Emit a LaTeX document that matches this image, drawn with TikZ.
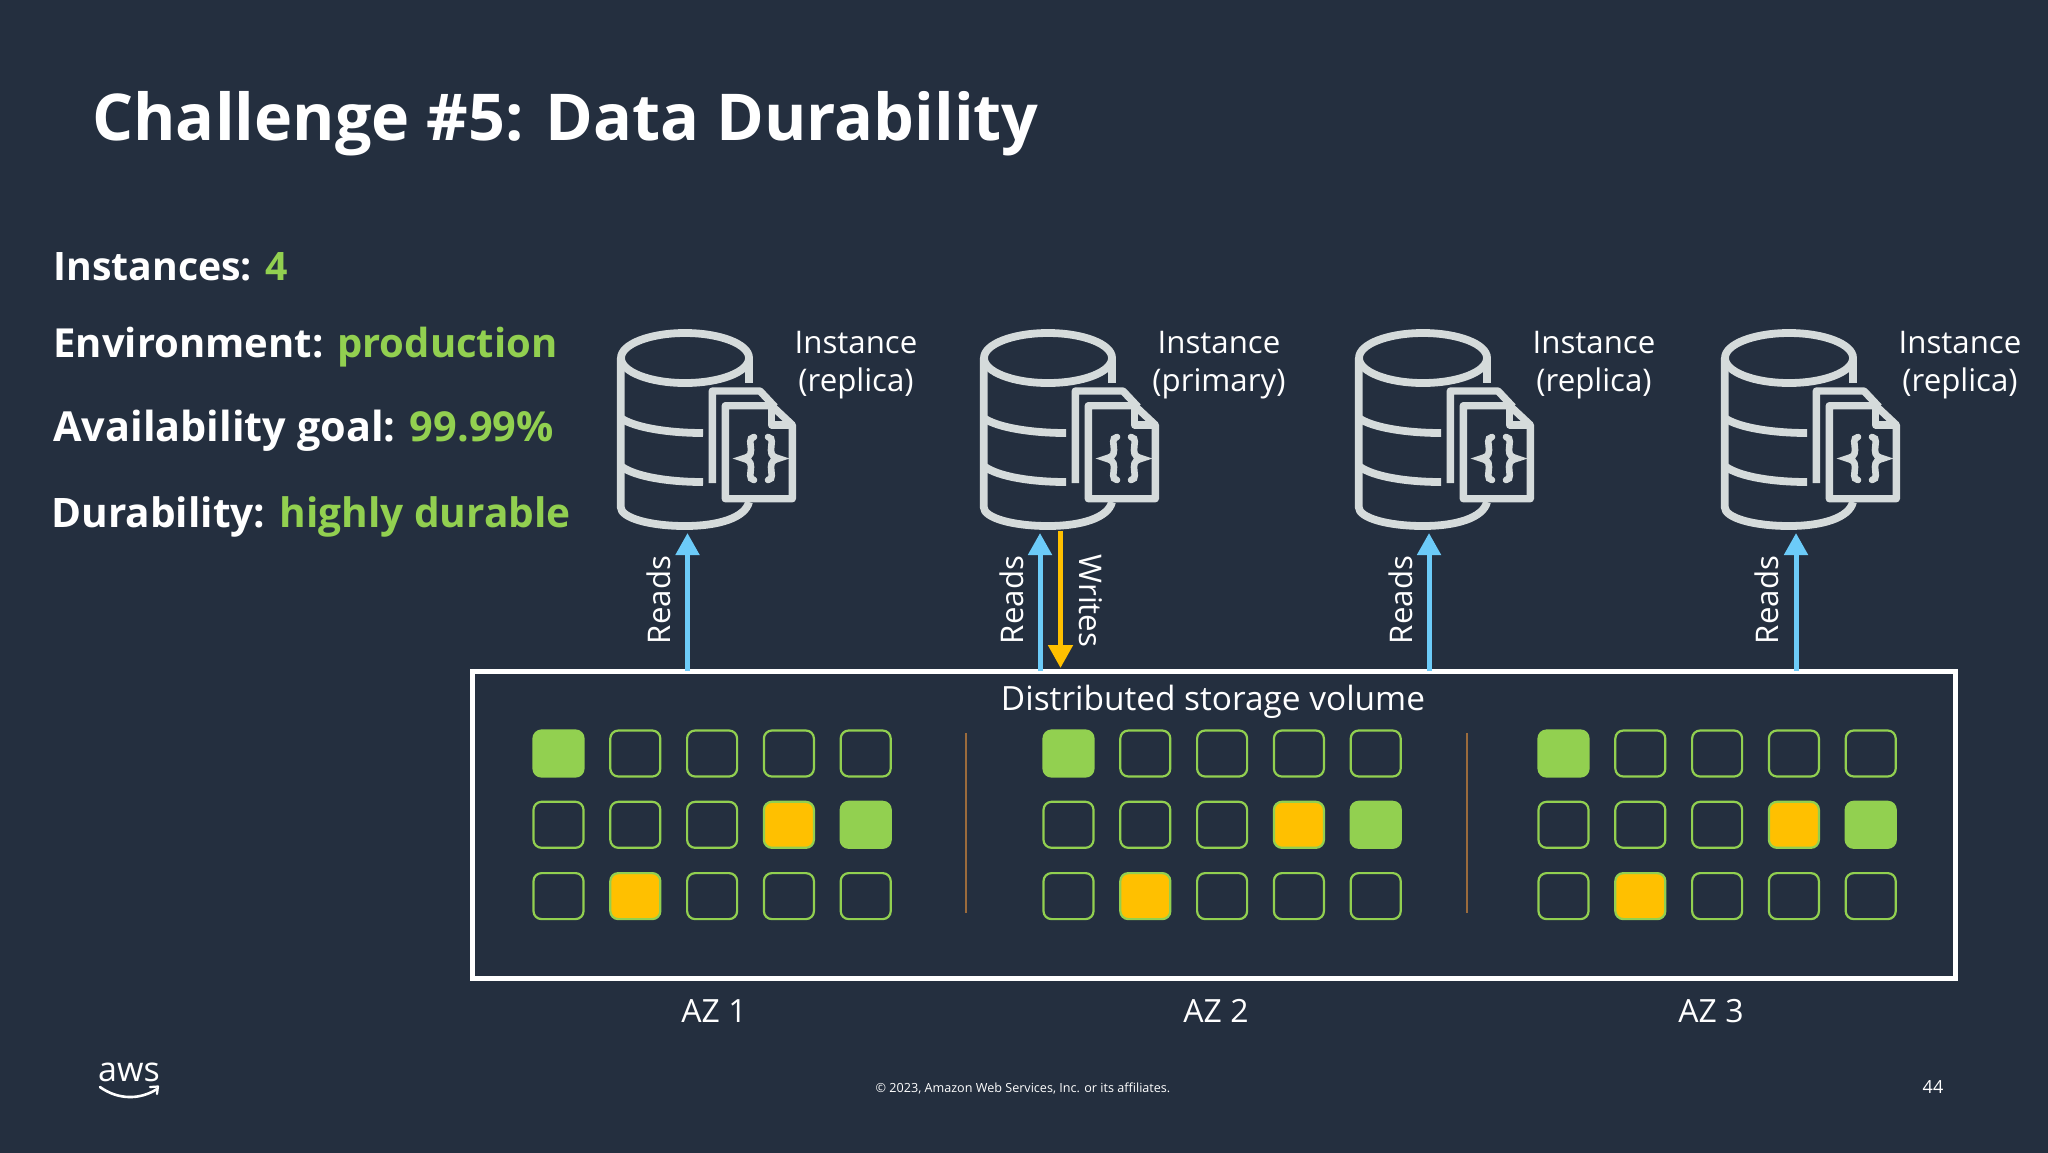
\documentclass[tikz,border=0pt]{standalone}
\usepackage{fontspec}
\setmainfont{Open Sans}
\usetikzlibrary{arrows.meta}
\definecolor{slidebg}{HTML}{242F3F}
\definecolor{goodgreen}{HTML}{92D050}
\definecolor{writeamber}{HTML}{FFC000}
\definecolor{readblue}{HTML}{6CCBF8}
\definecolor{icongray}{HTML}{D5DBDB}
\definecolor{azline}{HTML}{9B6B3C}

\begin{document}
\begin{tikzpicture}[
  x=0.5pt, y=-0.5pt,
  headline/.style={anchor=west, text=white, font=\fontsize{32.3}{38}\selectfont\bfseries},
  fact/.style={anchor=west, text=white, inner sep=0pt, font=\fontsize{#1}{24}\selectfont\bfseries},
  caption/.style={text=white, align=center, font=\fontsize{15.6}{19}\selectfont},
  cell/.style={draw=goodgreen, line width=1.1pt, rounded corners=4pt, minimum width=25pt, minimum height=23pt, inner sep=0pt},
  cellg/.style={cell, fill=goodgreen},
  celly/.style={cell, fill=writeamber},
  reads/.style={-{Triangle[length=11pt,width=11.5pt]}, draw=readblue, line width=2.5pt},
  writes/.style={-{Triangle[length=11.5pt,width=12pt]}, draw=writeamber, line width=2.5pt},
  dbicon/.pic={
    % cylinder
    \draw[icongray, line width=3.9pt] (85,48) ellipse (32pt and 12.5pt);
    \draw[icongray, line width=3.9pt] (20.7,48) -- (20.7,197) .. controls (20.7,208) and (50,216) .. (85,216) .. controls (118,216) and (145,208) .. (149,192);
    \draw[icongray, line width=3.9pt] (149,48) -- (149,73);
    \draw[icongray, line width=3.9pt] (20.7,108) .. controls (35,118) and (70,123) .. (103,123);
    \draw[icongray, line width=3.9pt] (20.7,156) .. controls (35,167) and (70,172) .. (103,172);
    % documents
    \draw[icongray, line width=3.7pt, line join=round] (112.3,173) -- (112.3,81) -- (160,81) -- (175,97);
    \draw[icongray, line width=3.7pt, fill=slidebg, line join=round] (125.3,95.7) -- (171.7,95.7) -- (192.3,115) -- (192.3,188.7) -- (125.3,188.7) -- cycle;
    \draw[icongray, line width=3.7pt, line join=round] (171.7,95.7) -- (171.7,115) -- (192.3,115);
    % braces
    \draw[icongray, line width=3.3pt, line cap=round] (154,127) .. controls (148,128) and (151,134) .. (151,140) .. controls (151,146) and (148,147) .. (143,148.5) .. controls (148,150) and (151,151) .. (151,157) .. controls (151,163) and (148,169) .. (154,170);
    \draw[icongray, line width=3.3pt, line cap=round] (168,127) .. controls (174,128) and (171,134) .. (171,140) .. controls (171,146) and (174,147) .. (179,148.5) .. controls (174,150) and (171,151) .. (171,157) .. controls (171,163) and (174,169) .. (168,170);
  }
]
  \useasboundingbox (0,0) rectangle (2048,1152);
  \fill[slidebg] (-6,-6) rectangle (2054,1158);

  \node[headline, inner sep=0pt] (title) at (92,124) {Challenge \#5: Data Durability};

  \node[fact=19.6] (instances) at (53,267) {Instances: \textcolor{goodgreen}{4}};
  \node[fact=20] (environment) at (53,347) {Environment: \textcolor{goodgreen}{production}};
  \node[fact=20.7] (goal) at (53,431) {Availability goal: \textcolor{goodgreen}{99.99\%}};
  \node[fact=20.3] (durability) at (51,517) {Durability: \textcolor{goodgreen}{highly durable}};

  % instances
  \pic at (600,310) {dbicon};
  \pic at (963,310) {dbicon};
  \pic at (1338,310) {dbicon};
  \pic at (1704,310) {dbicon};

  \node[caption] (inst1) at (856,365) {Instance\\(replica)};
  \node[caption] (inst2) at (1219,365) {Instance\\(primary)};
  \node[caption] (inst3) at (1594,365) {Instance\\(replica)};
  \node[caption] (inst4) at (1960,365) {Instance\\(replica)};

  % storage volume
  \node[draw=white, line width=2.5pt, outer sep=0pt, minimum width=741.5pt, minimum height=153.5pt] (volume) at (1213.5,824.5) {};
  \node[caption, font=\fontsize{16.7}{19}\selectfont] (voltitle) at (1213,702) {Distributed storage volume};

  \coordinate (foot1) at (687.5,533);
  \coordinate (foot2) at (1040,533);
  \coordinate (foot3) at (1429,533);
  \coordinate (foot4) at (1796,533);
  \coordinate (writetop) at (1060.5,531);
  \coordinate (writeend) at (1060.5,668);

  \draw[reads] (volume.north -| foot1) -- (foot1);
  \draw[reads] (volume.north -| foot2) -- (foot2);
  \draw[reads] (volume.north -| foot3) -- (foot3);
  \draw[reads] (volume.north -| foot4) -- (foot4);
  \draw[writes] (writetop) -- (writeend);

  \node[caption, rotate=90] (reads1) at (659,600) {Reads};
  \node[caption, rotate=90] (reads2) at (1012,600) {Reads};
  \node[caption, rotate=90] (reads3) at (1401,600) {Reads};
  \node[caption, rotate=90] (reads4) at (1767,600) {Reads};
  \node[caption, rotate=-90] (writes1) at (1091,601) {Writes};

  % cells of each zone
  \foreach \az/\startx in {1/558.5, 2/1068.5, 3/1563.5} {
    \foreach \col/\row/\kind in {0/0/cellg, 1/0/cell, 2/0/cell, 3/0/cell, 4/0/cell,
                                 0/1/cell, 1/1/cell, 2/1/cell, 3/1/celly, 4/1/cellg,
                                 0/2/cell, 1/2/celly, 2/2/cell, 3/2/cell, 4/2/cell} {
      \node[\kind] (c\az-\col-\row) at ({\startx+76.8*\col},{753.5+71.3*\row}) {};
    }
  }

  \coordinate (split1a) at (966,733);
  \coordinate (split1b) at (966,913);
  \coordinate (split2a) at (1467,733);
  \coordinate (split2b) at (1467,913);
  \draw[azline, line width=0.8pt] (split1a) -- (split1b);
  \draw[azline, line width=0.8pt] (split2a) -- (split2b);

  \node[caption, font=\fontsize{16}{19}\selectfont] (az1) at (714,1011) {AZ 1};
  \node[caption, font=\fontsize{16}{19}\selectfont] (az2) at (1216,1011) {AZ 2};
  \node[caption, font=\fontsize{16}{19}\selectfont] (az3) at (1711,1011) {AZ 3};

  % footer
  \node[text=white, inner sep=0pt, font=\fontsize{17}{20}\selectfont] (awslogo) at (129,1072) {aws};
  \coordinate (smilea) at (100,1087);
  \coordinate (smileb) at (157,1089);
  \draw[white, line width=1.3pt, line cap=round] (smilea) .. controls (118,1100) and (140,1100) .. (smileb);
  \draw[white, line width=1.1pt, line cap=round, line join=round] (150,1087) -- (158,1086.5) -- (157,1094);
  \node[text=white, font=\fontsize{6.3}{8}\selectfont] (copyright) at (1023,1088) {© 2023, Amazon Web Services, Inc. or its affiliates.};
  \node[text=white, font=\fontsize{9}{11}\selectfont] (pagenum) at (1933,1087) {44};
\end{tikzpicture}
\end{document}
